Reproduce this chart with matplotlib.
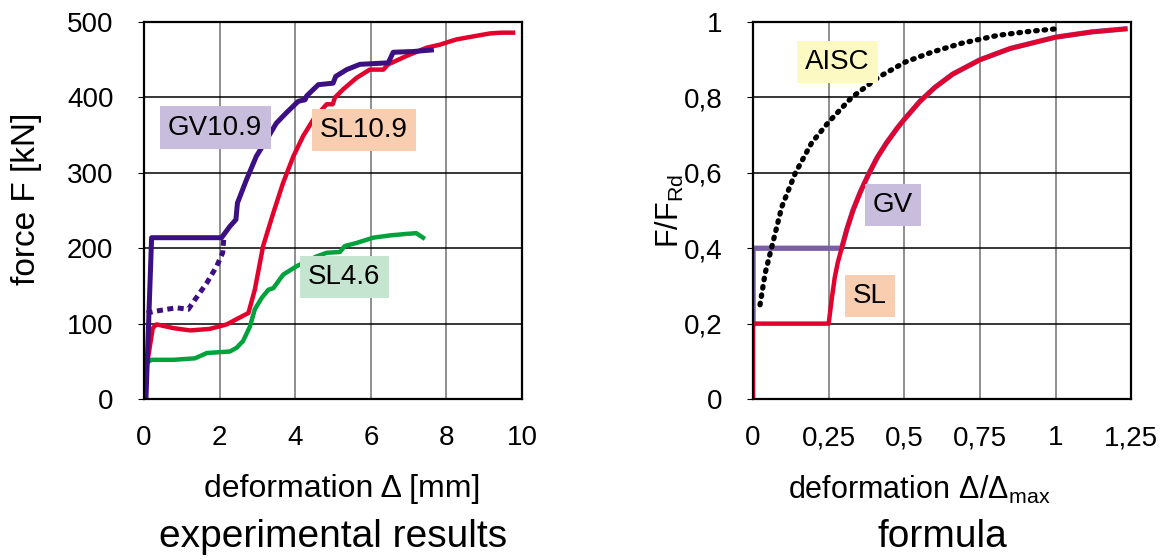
import matplotlib.pyplot as plt

plt.rcParams['font.family'] = ['Liberation Sans', 'DejaVu Sans']

# experimental results: deformation [mm] vs force [kN]
gv109_x = [0.05, 0.2, 2.05, 2.27, 2.43, 2.47, 2.71, 2.97, 3.24, 3.5, 3.77, 4.08, 4.26, 4.3,
           4.61, 5.0, 5.07, 5.36, 5.71, 6.46, 6.59, 7.12, 7.6]
gv109_y = [0, 214, 214, 229, 238, 260, 291, 322, 344, 366, 380, 395, 397, 402,
           417, 419, 428, 437, 444, 446, 460, 461, 463]

gv109_dash_x = [0.07, 0.25, 0.6, 0.86, 1.17, 1.35, 1.66, 1.92, 2.08, 2.11]
gv109_dash_y = [114, 116, 119, 121, 119, 132, 154, 176, 194, 214]

sl109_x = [0.0, 0.07, 0.23, 0.33, 0.78, 1.22, 1.74, 2.19, 2.45, 2.76, 2.93, 3.15, 3.42, 3.68,
           3.95, 4.21, 4.48, 4.74, 4.83, 4.99, 5.05, 5.27, 5.62, 5.97, 6.33, 6.46, 6.94,
           7.47, 7.82, 8.26, 8.7, 9.15, 9.45, 9.76]
sl109_y = [0, 43, 94, 99, 94, 91, 93, 99, 106, 114, 145, 203, 247, 287,
           322, 349, 371, 386, 391, 391, 400, 411, 426, 437, 437, 444, 455,
           466, 470, 477, 481, 485, 486, 486]

sl46_x = [0.0, 0.05, 0.2, 0.78, 1.35, 1.66, 2.27, 2.45, 2.62, 2.8, 2.93, 3.11, 3.29, 3.42,
          3.68, 4.03, 4.56, 4.83, 5.18, 5.31, 5.62, 6.06, 6.5, 6.94, 7.2, 7.38]
sl46_y = [8, 48, 52, 52, 54, 61, 63, 68, 77, 96, 119, 134, 145, 147,
          165, 176, 189, 194, 195, 203, 207, 214, 217, 219, 220, 214]

# formula: relative deformation vs F/F_Rd
sl_x = [0, 0, 0.25, 0.26, 0.27, 0.28, 0.293, 0.31, 0.33, 0.355, 0.381, 0.41, 0.44, 0.475,
        0.5, 0.552, 0.6, 0.66, 0.75, 0.85, 1.0, 1.12, 1.23]
sl_y = [0, 0.2, 0.2, 0.265, 0.322, 0.362, 0.4, 0.45, 0.5, 0.55, 0.595, 0.64, 0.678, 0.717,
        0.742, 0.79, 0.826, 0.862, 0.9, 0.93, 0.96, 0.974, 0.982]

gv_x = [0, 0, 0.293, 0.31, 0.33, 0.355, 0.381, 0.41, 0.44, 0.475,
        0.5, 0.552, 0.6, 0.66, 0.75, 0.85, 1.0, 1.12, 1.23]
gv_y = [0.2, 0.4, 0.4, 0.45, 0.5, 0.55, 0.595, 0.64, 0.678, 0.717,
        0.742, 0.79, 0.826, 0.862, 0.9, 0.93, 0.96, 0.974, 0.982]

aisc_x = [0.023, 0.04, 0.062, 0.095, 0.14, 0.194, 0.25, 0.326, 0.415, 0.503, 0.59, 0.69, 0.81, 0.92, 1.0]
aisc_y = [0.25, 0.334, 0.404, 0.51, 0.6, 0.68, 0.735, 0.8, 0.854, 0.894, 0.92, 0.944, 0.965, 0.976, 0.982]

left_xticks = [0, 2, 4, 6, 8, 10]
left_yticks = [0, 100, 200, 300, 400, 500]
right_xticks = [0, 0.25, 0.5, 0.75, 1, 1.25]
right_xlabels = ['0', '0,25', '0,5', '0,75', '1', '1,25']
right_yticks = [0, 0.2, 0.4, 0.6, 0.8, 1]
right_ylabels = ['0', '0,2', '0,4', '0,6', '0,8', '1']

RED = '#e3002c'
DARK_PURPLE = '#3c0f82'
GREEN = '#00a23c'
PURPLE = '#7b5ea8'

fig = plt.figure(figsize=(11.73, 5.6), dpi=100)
ax1 = fig.add_axes([0.1228, 0.2875, 0.3223, 0.673])
ax2 = fig.add_axes([0.642, 0.2875, 0.3223, 0.673])


def style_axes(ax):
    ax.grid(True, axis='y', color='black', linewidth=1.1)
    ax.grid(True, axis='x', color='#707070', linewidth=1.1)
    ax.set_axisbelow(True)
    for s in ax.spines.values():
        s.set_linewidth(1.6)
        s.set_color('black')
    ax.tick_params(axis='y', labelsize=20, length=4, pad=18)
    ax.tick_params(axis='x', labelsize=20, length=0, pad=19)


# left: experimental curves
ax1.plot(sl46_x, sl46_y, color=GREEN, lw=3.2, solid_joinstyle='round')
ax1.plot(sl109_x, sl109_y, color=RED, lw=3.2, solid_joinstyle='round')
ax1.plot(gv109_dash_x, gv109_dash_y, color=DARK_PURPLE, lw=3.6, dashes=(1.2, 0.9))
ax1.plot(gv109_x, gv109_y, color=DARK_PURPLE, lw=3.6, solid_joinstyle='round')
ax1.set_xlim(0, 10)
ax1.set_ylim(0, 500)
ax1.set_xticks(left_xticks)
ax1.set_yticks(left_yticks)
style_axes(ax1)
ax1.set_ylabel('force F [kN]', fontsize=24)
ax1.yaxis.set_label_coords(-0.27, 0.53)
ax1.set_xlabel('deformation \u0394 [mm]', fontsize=23)
ax1.xaxis.set_label_coords(0.524, -0.2)

box = dict(boxstyle='square,pad=0.3', ec='none')
ax1.text(1.88, 360, 'GV10.9', fontsize=20, ha='center', va='center',
         bbox=dict(box, fc='#c8bddc'))
ax1.text(5.82, 357, 'SL10.9', fontsize=20, ha='center', va='center',
         bbox=dict(box, fc='#f9cdb0'))
ax1.text(5.29, 162, 'SL4.6', fontsize=20, ha='center', va='center',
         bbox=dict(box, fc='#c6e5d1'))

# right: formula curves
ax2.plot(gv_x, gv_y, color=PURPLE, lw=3.8)
ax2.plot(sl_x, sl_y, color=RED, lw=3.2)
ax2.plot(aisc_x, aisc_y, color='black', lw=3.8, linestyle=(0, (0.3, 1.3)),
         dash_capstyle='round')
ax2.set_xlim(0, 1.25)
ax2.set_ylim(0, 1)
ax2.set_xticks(right_xticks)
ax2.set_xticklabels(right_xlabels)
ax2.set_yticks(right_yticks)
ax2.set_yticklabels(right_ylabels)
style_axes(ax2)
ax2.set_ylabel('$\\mathregular{F/F_{Rd}}$', fontsize=22)
ax2.yaxis.set_label_coords(-0.177, 0.5)
ax2.set_xlabel('$\\mathregular{deformation\\ \u0394/\u0394_{max}}$', fontsize=22)
ax2.xaxis.set_label_coords(0.44, -0.2)

ax2.text(0.278, 0.894, 'AISC', fontsize=20, ha='center', va='center',
         bbox=dict(box, fc='#fcf9c3'))
ax2.text(0.463, 0.515, 'GV', fontsize=20, ha='center', va='center',
         bbox=dict(box, fc='#c8bddc'))
ax2.text(0.387, 0.273, 'SL', fontsize=20, ha='center', va='center',
         bbox=dict(box, fc='#f9cdb0'))

fig.text(0.284, 0.041, 'experimental results', fontsize=28, ha='center', va='center')
fig.text(0.803, 0.041, 'formula', fontsize=28, ha='center', va='center')

fig.savefig('out.png', dpi=100)
